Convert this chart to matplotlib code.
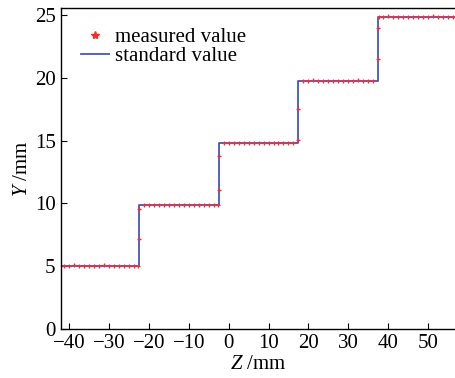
import matplotlib
matplotlib.use("Agg")
import matplotlib.pyplot as plt

plt.rcParams['font.family'] = 'Liberation Serif'
plt.rcParams['mathtext.fontset'] = 'custom'
plt.rcParams['mathtext.rm'] = 'Liberation Serif'
plt.rcParams['mathtext.it'] = 'Liberation Serif:italic'

# measured values (Z in mm, Y in mm)
meas_z = [-41.25, -40.0, -38.75, -37.5, -36.25, -35.0, -33.75, -32.5, -31.25, -30.0,
          -28.75, -27.5, -26.25, -25.0, -23.75, -22.6, -22.5, -22.4,
          -21.25, -20.0, -18.75, -17.5, -16.25, -15.0, -13.75, -12.5, -11.25, -10.0,
          -8.75, -7.5, -6.25, -5.0, -3.75, -2.6, -2.5, -2.4,
          -1.25, 0.0, 1.25, 2.5, 3.75, 5.0, 6.25, 7.5, 8.75, 10.0,
          11.25, 12.5, 13.75, 15.0, 16.25, 17.4, 17.5,
          18.75, 20.0, 21.25, 22.5, 23.75, 25.0, 26.25, 27.5, 28.75, 30.0,
          31.25, 32.5, 33.75, 35.0, 36.25, 37.4, 37.5, 37.6,
          38.75, 40.0, 41.25, 42.5, 43.75, 45.0, 46.25, 47.5, 48.75, 50.0,
          51.25, 52.5, 53.75, 55.0, 56.25]
meas_y = [5.0, 5.02, 5.1, 5.0, 5.02, 5.0, 5.0, 5.02, 5.08, 5.0,
          5.0, 5.02, 5.0, 5.05, 5.02, 5.05, 7.2, 9.6,
          9.85, 9.85, 9.87, 9.85, 9.85, 9.86, 9.85, 9.85, 9.87, 9.85,
          9.85, 9.86, 9.85, 9.85, 9.85, 9.85, 11.05, 13.8,
          14.8, 14.8, 14.82, 14.8, 14.8, 14.8, 14.81, 14.8, 14.8, 14.8,
          14.8, 14.82, 14.8, 14.8, 14.8, 15.1, 17.5,
          19.8, 19.8, 19.82, 19.8, 19.8, 19.8, 19.81, 19.8, 19.8, 19.8,
          19.8, 19.82, 19.8, 19.8, 19.8, 21.5, 24.0, 24.9,
          24.9, 24.92, 24.9, 24.9, 24.9, 24.91, 24.9, 24.9, 24.9, 24.9,
          24.92, 24.9, 24.9, 24.9, 24.9]

# standard values (step edges and levels)
std_z = [-42, -22.5, -2.5, 17.5, 37.5, 57]
std_y = [5.0, 9.85, 14.8, 19.8, 24.9, 24.9]

fig = plt.figure(figsize=(4.56, 3.78), dpi=100)
ax = fig.add_axes([0.134, 0.130, 0.866, 0.849])

ax.plot(std_z, std_y, drawstyle='steps-post', color='#4455c0', lw=1.3,
        label='standard value', zorder=2)
ax.plot(meas_z, meas_y, linestyle='none', marker='+', color='#ff2a2a',
        markersize=3.5, markeredgewidth=0.9, zorder=3)
# legend proxy for measured values
ax.plot([], [], linestyle='none', marker='*', color='#ff2a2a', markersize=6,
        label='measured value')

handles, labels = ax.get_legend_handles_labels()
ax.legend(handles[::-1], labels[::-1], loc='upper left', frameon=False,
          fontsize=15, handlelength=1.35, handletextpad=0.3, labelspacing=-0.02,
          borderaxespad=0.55, bbox_to_anchor=(0.0, 1.0))

ax.set_xlim(-42, 57)
ax.set_ylim(0, 25.6)
ax.set_xticks([-40, -30, -20, -10, 0, 10, 20, 30, 40, 50])
ax.set_yticks([0, 5, 10, 15, 20, 25])
ax.tick_params(direction='in', length=4, width=0.8, labelsize=15)
ax.tick_params(axis='x', pad=4)
ax.tick_params(axis='y', pad=4)
ax.set_xlabel(r'$Z$ /mm', fontsize=15, labelpad=1)
ax.set_ylabel(r'$Y$ /mm', fontsize=15, labelpad=2)
for s in ax.spines.values():
    s.set_linewidth(1.0)
ax.spines['right'].set_visible(False)

fig.savefig('out.png', dpi=100)
